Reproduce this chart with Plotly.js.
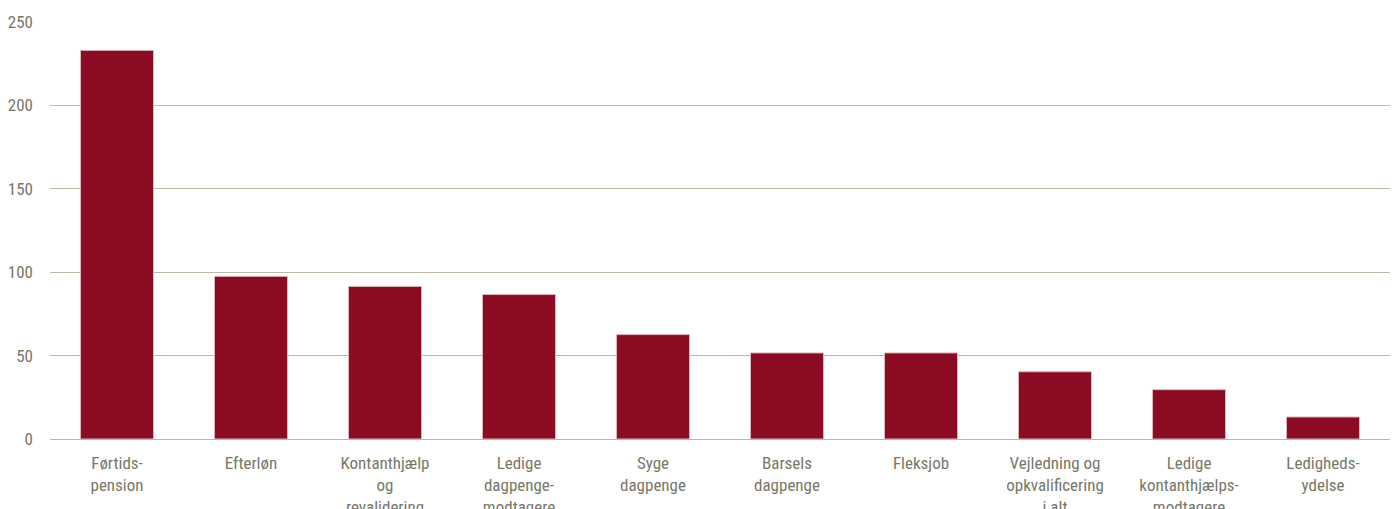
<!DOCTYPE html>
<html>
<head>
<meta charset="utf-8">
<script src="https://cdn.plot.ly/plotly-3.0.1.min.js"></script>
<style>html,body{margin:0;padding:0;background:#fff;}#chart{width:1395px;height:509px;}</style>
</head>
<body>
<div id="chart"></div>
<script>
const categories = [
  "Førtids-<br>pension",
  "Efterløn",
  "Kontanthjælp<br>og<br>revalidering",
  "Ledige<br>dagpenge-<br>modtagere",
  "Syge<br>dagpenge",
  "Barsels<br>dagpenge",
  "Fleksjob",
  "Vejledning og<br>opkvalificering<br>i alt",
  "Ledige<br>kontanthjælps-<br>modtagere",
  "Ledigheds-<br>ydelse"
];
const values = [233, 97.5, 91.5, 86.6, 62.6, 51.6, 51.6, 40.3, 29.6, 13.2];
const yTicks = [0, 50, 100, 150, 200, 250];

const trace = {
  type: "bar",
  x: categories,
  y: values,
  marker: { color: "#8b0c22", line: { color: "#dcb6bd", width: 1 } },
  hoverinfo: "skip"
};

const layout = {
  width: 1395,
  height: 509,
  margin: { l: 50, r: 5, t: 22, b: 70 },
  paper_bgcolor: "#ffffff",
  plot_bgcolor: "#ffffff",
  bargap: 0.455,
  showlegend: false,
  font: { family: "Roboto Condensed, Liberation Sans Narrow, sans-serif", size: 17, color: "#77776a" },
  xaxis: {
    showgrid: false,
    showline: false,
    zeroline: false,
    ticks: "",
    ticklabelstandoff: 12,
    tickfont: { size: 17, color: "#77776a" },
    automargin: false
  },
  yaxis: {
    range: [0, 250],
    tickvals: yTicks,
    ticktext: yTicks.map(String),
    showgrid: true,
    gridcolor: "#bbb8a8",
    gridwidth: 1,
    zeroline: true,
    zerolinecolor: "#bbb8a8",
    zerolinewidth: 1,
    showline: false,
    ticks: "",
    ticklabelstandoff: 16,
    tickfont: { size: 17, color: "#77776a" },
    automargin: false
  }
};

Plotly.newPlot("chart", [trace], layout, { displayModeBar: false, staticPlot: true });
</script>
</body>
</html>
